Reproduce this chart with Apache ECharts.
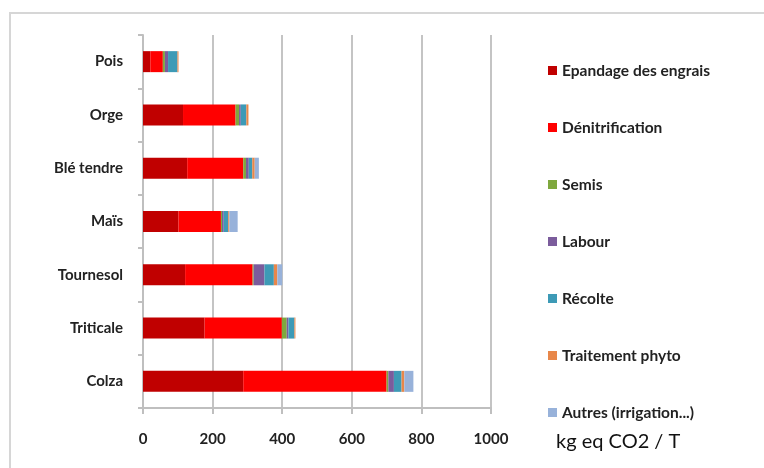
<!DOCTYPE html>
<html><head><meta charset="utf-8">
<script src="https://cdn.jsdelivr.net/npm/echarts@6/dist/echarts.min.js"></script>
<style>html,body{margin:0;padding:0;background:#fff}#c{width:764px;height:468px}</style>
</head><body><div id="c"></div>
<script>
const categories = ['Pois', 'Orge', 'Blé tendre', 'Maïs', 'Tournesol', 'Triticale', 'Colza'];
const seriesNames = ['Epandage des engrais', 'Dénitrification', 'Semis', 'Labour', 'Récolte', 'Traitement phyto', 'Autres (irrigation...)'];
const epandage = [21, 115, 127, 102, 121, 177, 288];
const denitrification = [36, 151, 161, 122, 194, 222, 412];
const semis = [6, 10, 8, 3, 3, 14, 5];
const labour = [9, 5, 8, 5, 31, 5, 16];
const recolte = [27, 16, 10, 13, 27, 17, 22];
const traitement = [3, 6, 7, 3, 10, 3, 8];
const autres = [0, 0, 12, 24, 14, 0, 26];
const xTicks = [0, 200, 400, 600, 800, 1000];
const colors = ['#C00000', '#FF0000', '#7FA83E', '#7B5C9C', '#3D9AB6', '#E8874A', '#98B2DA'];
const values = [epandage, denitrification, semis, labour, recolte, traitement, autres];

const font = 'Lato, "Open Sans", sans-serif';
const chart = echarts.init(document.getElementById('c'));
chart.setOption({
  animation: false,
  color: colors,
  grid: { left: 143, right: 273, top: 35, bottom: 60 },
  graphic: [
    { type: 'rect', shape: { x: 10, y: 13, width: 800, height: 500 }, style: { fill: 'none', stroke: '#d6d6d6', lineWidth: 2 }, z: -1 },
    { type: 'text', left: 556, top: 432, style: { text: 'kg eq CO2 / T', font: '20px ' + font, fill: '#111' } }
  ],
  legend: {
    orient: 'vertical', left: 543, top: 57, itemWidth: 9, itemHeight: 9, itemGap: 40,
    icon: 'rect',
    textStyle: { fontFamily: font, fontWeight: 'bold', fontSize: 15.5, color: '#222', lineHeight: 17 },
    data: seriesNames
  },
  xAxis: {
    type: 'value', min: 0, max: 1000, interval: 200,
    axisLine: { show: true, lineStyle: { color: '#bfbfbf', width: 2 } },
    axisTick: { show: true, length: 6, lineStyle: { color: '#bfbfbf', width: 2 } },
    splitLine: { lineStyle: { color: '#c4c4c4', width: 2 } },
    axisLabel: { fontFamily: font, fontWeight: 'bold', fontSize: 15, color: '#222', margin: 24,
      formatter: v => xTicks.includes(v) ? String(v) : '' }
  },
  yAxis: {
    type: 'category', inverse: true, data: categories,
    axisLine: { show: true, lineStyle: { color: '#bfbfbf', width: 2 } },
    axisTick: { show: true, length: 5, lineStyle: { color: '#bfbfbf', width: 2 } },
    axisLabel: { fontFamily: font, fontWeight: 'bold', fontSize: 15, color: '#222', margin: 20 }
  },
  series: seriesNames.map((n, i) => ({
    name: n, type: 'bar', stack: 'total', barWidth: 21, data: values[i],
    itemStyle: { color: colors[i] }
  }))
});
</script></body></html>
